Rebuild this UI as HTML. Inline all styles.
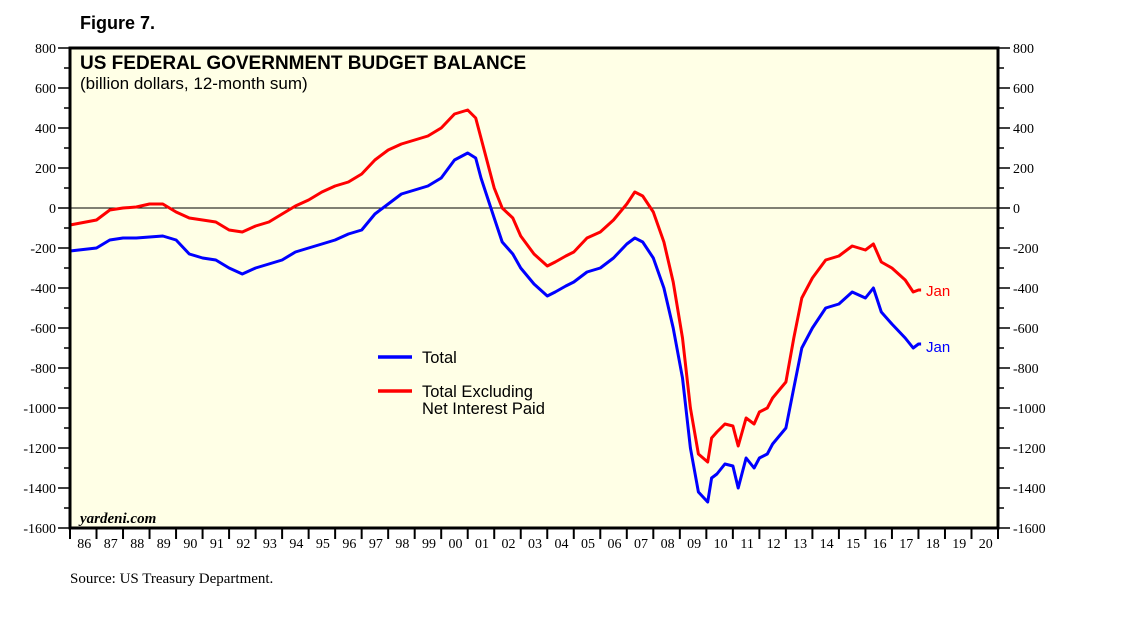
<!DOCTYPE html>
<html><head><meta charset="utf-8">
<style>
body{margin:0;background:#fff;}
svg{display:block;}
.sans{font-family:"Liberation Sans",Arial,sans-serif;}
.serif{font-family:"Liberation Serif","Times New Roman",serif;}
</style></head>
<body>
<svg id="chart" width="1138" height="621" viewBox="0 0 1138 621">
<rect x="70" y="48" width="928" height="480" fill="#ffffe6"/>
<g id="grid"></g>
<g id="series"></g>
<rect x="70" y="48" width="928" height="480" fill="none" stroke="#000" stroke-width="3"/>
<g id="axes"></g>
<text x="80" y="29" class="sans" font-size="18" font-weight="bold">Figure 7.</text>
<text x="80" y="69" class="sans" font-size="19" font-weight="bold">US FEDERAL GOVERNMENT BUDGET BALANCE</text>
<text x="80" y="89" class="sans" font-size="17">(billion dollars, 12-month sum)</text>
<text x="80" y="523" class="serif" font-size="15" font-style="italic" font-weight="bold">yardeni.com</text>
<text x="70" y="583" class="serif" font-size="15">Source: US Treasury Department.</text>
<g>
<line x1="378" y1="357" x2="412" y2="357" stroke="#0000ff" stroke-width="3.5"/>
<text x="422" y="363" class="sans" font-size="16.5">Total</text>
<line x1="378" y1="391" x2="412" y2="391" stroke="#ff0000" stroke-width="3.5"/>
<text x="422" y="397" class="sans" font-size="16.5">Total Excluding</text>
<text x="422" y="414" class="sans" font-size="16.5">Net Interest Paid</text>
</g>
<text x="926" y="296" class="sans" font-size="15" fill="#ff0000">Jan</text>
<text x="926" y="352" class="sans" font-size="15" fill="#0000ff">Jan</text>
</svg>
<script>
const yTicks=[800,600,400,200,0,-200,-400,-600,-800,-1000,-1200,-1400,-1600];
const years=["86","87","88","89","90","91","92","93","94","95","96","97","98","99","00","01","02","03","04","05","06","07","08","09","10","11","12","13","14","15","16","17","18","19","20"];
const totalDates=[1986.0,1987.0,1987.5,1988.0,1988.5,1989.0,1989.5,1990.0,1990.5,1991.0,1991.5,1992.0,1992.5,1993.0,1993.5,1994.0,1994.5,1995.0,1995.5,1996.0,1996.5,1997.0,1997.5,1998.0,1998.5,1999.0,1999.5,2000.0,2000.5,2001.0,2001.3,2001.5,2002.0,2002.3,2002.7,2003.0,2003.5,2004.0,2004.3,2004.7,2005.0,2005.5,2006.0,2006.5,2007.0,2007.3,2007.6,2008.0,2008.4,2008.75,2009.1,2009.4,2009.7,2010.05,2010.2,2010.4,2010.7,2011.0,2011.2,2011.5,2011.8,2012.0,2012.3,2012.5,2013.0,2013.3,2013.6,2014.0,2014.5,2015.0,2015.5,2016.0,2016.3,2016.6,2017.0,2017.5,2017.8,2018.0,2018.1];
const totalValues=[-215,-200,-160,-150,-150,-145,-140,-160,-230,-250,-260,-300,-330,-300,-280,-260,-220,-200,-180,-160,-130,-110,-30,20,70,90,110,150,240,275,250,150,-50,-170,-230,-300,-380,-440,-420,-390,-370,-320,-300,-250,-180,-150,-170,-250,-400,-600,-850,-1200,-1420,-1470,-1350,-1330,-1280,-1290,-1400,-1250,-1300,-1250,-1230,-1180,-1100,-900,-700,-600,-500,-480,-420,-450,-400,-520,-580,-650,-700,-680,-680];
const exclValues=[-85,-60,-10,0,5,20,20,-20,-50,-60,-70,-110,-120,-90,-70,-30,10,40,80,110,130,170,240,290,320,340,360,400,470,490,450,350,100,0,-50,-140,-230,-290,-270,-240,-220,-150,-120,-60,20,80,60,-20,-170,-370,-650,-1000,-1230,-1270,-1150,-1120,-1080,-1090,-1190,-1050,-1080,-1020,-1000,-950,-870,-650,-450,-350,-260,-240,-190,-210,-180,-270,-300,-360,-420,-410,-410];

const NS="http://www.w3.org/2000/svg";
const L=70,R=998,T=48,B=528;
const x=t=>L+(t-1986)*(R-L)/35;
const y=v=>T+(800-v)*(B-T)/2400;
function mk(tag,attrs,parent){const e=document.createElementNS(NS,tag);for(const k in attrs)e.setAttribute(k,attrs[k]);parent.appendChild(e);return e;}
const axes=document.getElementById('axes'),grid=document.getElementById('grid'),series=document.getElementById('series');

const zero=mk('line',{x1:L,x2:R,y1:y(0),y2:y(0),stroke:'#000','stroke-width':1},grid);



for(let v=800;v>=-1600;v-=100){
  const major=v%200===0;
  const lt=mk('line',{x1:major?58:64,x2:L,y1:y(v),y2:y(v),stroke:'#000','stroke-width':1.5},axes);
  
  
  const rt=mk('line',{x1:R,x2:major?1010:1004,y1:y(v),y2:y(v),stroke:'#000','stroke-width':1.5},axes);
  
  
}
yTicks.forEach(v=>{
  const a=mk('text',{x:56,y:y(v)+5,'text-anchor':'end','font-size':14,'class':'serif'},axes);
  a.textContent=v;
  
  
  const b=mk('text',{x:1013,y:y(v)+5,'font-size':14,'class':'serif'},axes);
  b.textContent=v;
  
  
});
years.forEach((lab,i)=>{
  const t=mk('line',{x1:x(1986+i),x2:x(1986+i),y1:B,y2:B+11,stroke:'#000','stroke-width':2},axes);
  
  
  const tx=mk('text',{x:x(1986.5+i)+1,y:B+20,'text-anchor':'middle','font-size':14,'class':'serif'},axes);
  tx.textContent=lab;
  
  
});
const lt2=mk('line',{x1:R,x2:R,y1:B,y2:B+11,stroke:'#000','stroke-width':2},axes);



function line(vals,color,name){
  const d=vals.map((v,i)=>(i?'L':'M')+x(totalDates[i]).toFixed(1)+','+y(v).toFixed(1)).join('');
  const p=mk('path',{d:d,fill:'none',stroke:color,'stroke-width':3,'stroke-linejoin':'round'},series);
  
  
}
line(exclValues,'#ff0000','series-excl-interest');
line(totalValues,'#0000ff','series-total');
</script>
</body></html>
